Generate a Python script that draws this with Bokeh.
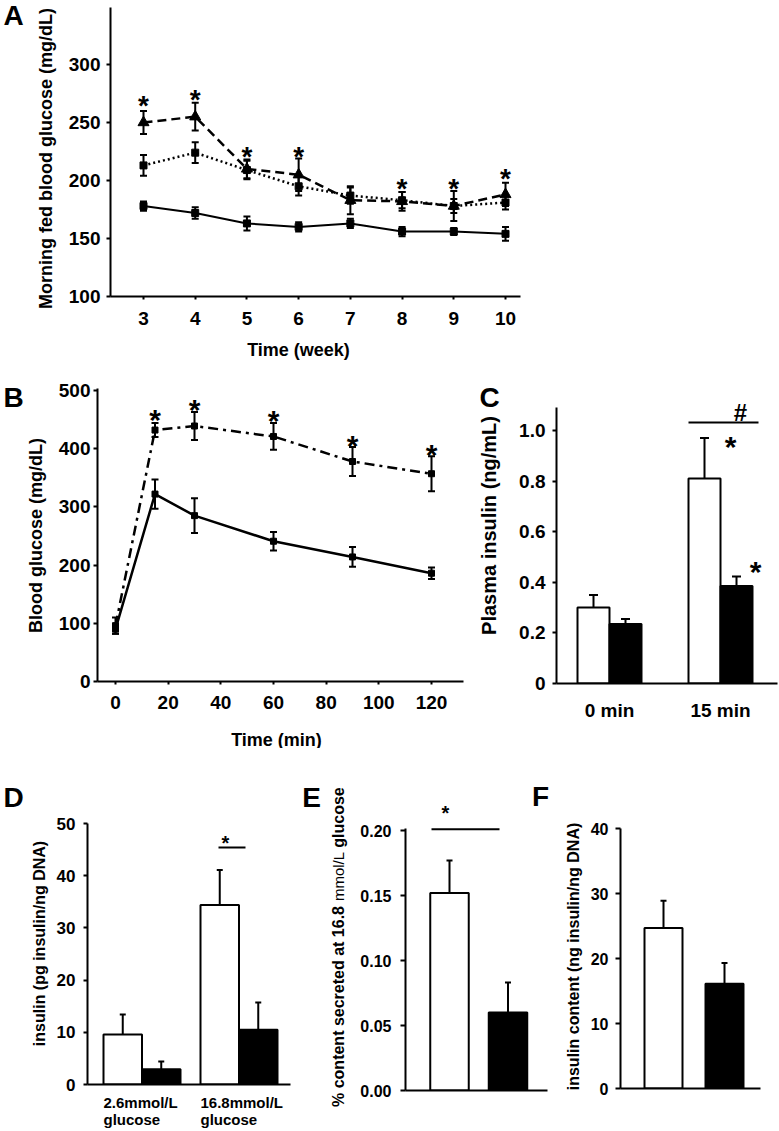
import math
from bokeh.plotting import figure
from bokeh.layouts import column, row
from bokeh.models import ColumnDataSource, Whisker, TeeHead, Label, FixedTicker, Range1d
from bokeh.embed import file_html
from bokeh.resources import INLINE

FONT = "Liberation Sans"

# ---------------- data ----------------
# Panel A: morning fed blood glucose by week
weeks = [3, 4, 5, 6, 7, 8, 9, 10]
a_ctrl = [178, 172, 163, 160, 163, 156, 156, 154]
a_ctrl_err = [4, 5, 6, 4, 4, 4, 3, 6]
a_mid = [213, 224, 209, 195, 187, 183, 178, 181]
a_mid_err = [9, 9, 8, 8, 7, 7, 6, 6]
a_high = [250, 255, 210, 205, 183, 182, 178, 188]
a_high_err = [10, 12, 8, 14, 12, 8, 13, 10]
a_star_x = [3, 4, 5, 6, 8, 9, 10]
a_star_y = [270, 275, 226, 226, 198, 198, 207]

# Panel B: glucose tolerance
b_time = [0, 15, 30, 60, 90, 120]
b_ctrl = [90, 322, 285, 241, 214, 186]
b_ctrl_err = [8, 25, 30, 16, 17, 10]
b_ko = [96, 432, 439, 421, 378, 357]
b_ko_err = [14, 12, 24, 23, 25, 30]
b_star_x = [15, 30, 60, 90, 120]
b_star_y = [462, 479, 460, 417, 402]

# Panel C: plasma insulin
c_groups = ["0 min", "15 min"]
c_white = [0.30, 0.81]
c_white_err = [0.05, 0.16]
c_black = [0.235, 0.385]
c_black_err = [0.02, 0.038]

# Panel D: insulin secretion
d_groups = [["2.6mmol/L", "glucose"], ["16.8mmol/L", "glucose"]]
d_white = [9.6, 34.4]
d_white_err = [3.8, 6.7]
d_black = [2.9, 10.5]
d_black_err = [1.5, 5.2]

# Panel E: % content secreted
e_vals = [0.152, 0.060]
e_err = [0.025, 0.023]

# Panel F: insulin content
f_vals = [24.7, 16.1]
f_err = [4.2, 3.2]


# ---------------- helpers ----------------
def lin(v1, p1, v2, p2):
    return lambda p: v1 + (p - p1) * (v2 - v1) / (p2 - p1)


def mk_label(x, y, text, size, bold=True, align="center", angle=0.0):
    return Label(x=x, y=y, text=text, text_font=FONT, text_font_size=f"{size}px",
                 text_font_style="bold" if bold else "normal", text_align=align,
                 text_baseline="middle", angle=angle, text_color="black")


class Pan:
    def __init__(self, canvas, frame, xcal, ycal):
        cl, ct, cw, ch = canvas
        fl, fr, ft, fb = frame
        fx = lin(*xcal)
        fy = lin(*ycal)
        self.fx, self.fy = fx, fy
        self.px = lin(xcal[1], xcal[0], xcal[3], xcal[2])  # data -> pixel
        self.sy = abs((ycal[3] - ycal[1]) / (ycal[2] - ycal[0]))
        self.sx = abs((xcal[3] - xcal[1]) / (xcal[2] - xcal[0]))
        p = figure(width=cw, height=ch, title=None,
                   x_range=Range1d(fx(fl), fx(fr)), y_range=Range1d(fy(fb), fy(ft)),
                   output_backend="svg", toolbar_location=None,
                   min_border_left=fl - cl, min_border_right=cl + cw - fr,
                   min_border_top=ft - ct, min_border_bottom=ct + ch - fb)
        p.outline_line_color = None
        p.xgrid.visible = False
        p.ygrid.visible = False
        p.background_fill_color = "white"
        p.border_fill_color = "white"
        for ax in (p.xaxis[0], p.yaxis[0]):
            ax.axis_line_width = 2
            ax.axis_line_color = "black"
            ax.major_tick_line_width = 2
            ax.major_tick_line_color = "black"
            ax.minor_tick_line_color = None
            ax.major_tick_in = 0
            ax.major_label_text_font = FONT
            ax.major_label_text_font_style = "bold"
            ax.major_label_text_color = "black"
        self.p = p

    def label(self, text, rx, ry, size, bold=True, align="center", angle=0.0):
        self.p.add_layout(mk_label(self.fx(rx), self.fy(ry), text, size, bold, align, angle))

    def star(self, x, y, size, text="*"):
        # y is the visual centre of the asterisk in data units
        self.p.add_layout(mk_label(x, y - 0.22 * size / self.sy, text, size))


class Gut:
    """Text-only strip whose frame is its whole canvas, in page pixels."""
    def __init__(self, x0, y0, w, h):
        p = figure(width=w, height=h, title=None, x_range=Range1d(x0, x0 + w),
                   y_range=Range1d(y0 + h, y0), x_axis_type=None, y_axis_type=None,
                   output_backend="svg", toolbar_location=None, min_border=0)
        p.outline_line_color = None
        p.background_fill_color = "white"
        p.border_fill_color = "white"
        self.p = p

    def label(self, text, x, y, size, bold=True, align="center", angle=0.0):
        self.p.add_layout(mk_label(x, y, text, size, bold, align, angle))


def W(p):
    # isolate a plot in its own box so its frame is not aligned with its neighbours
    return column(p)


def errbars(p, xs, ys, errs, cap=8, both=True, width=2):
    src = ColumnDataSource(dict(x=xs, lo=[y - e for y, e in zip(ys, errs)] if both else list(ys),
                                hi=[y + e for y, e in zip(ys, errs)]))
    w = Whisker(source=src, base="x", lower="lo", upper="hi", line_width=width, line_color="black",
                upper_head=TeeHead(size=cap, line_width=width, line_color="black"),
                lower_head=TeeHead(size=cap, line_width=width, line_color="black") if both else None)
    p.add_layout(w)


def bars(p, xs, tops, width, fill):
    p.vbar(x=xs, top=tops, bottom=0, width=width, fill_color=fill, line_color="black", line_width=2)


# ---------------- Panel A ----------------
gAL = Gut(0, 0, 60, 362)
gAL.label("A", 13, 15, 28)
gAL.label("Morning fed blood glucose (mg/dL)", 45, 158, 18, angle=math.pi / 2)

A = Pan((60, 0, 719, 338), (110, 520, 7, 296), (3, 143, 10, 505), (100, 296, 300, 64))
pa = A.p
pa.xaxis.ticker = FixedTicker(ticks=weeks)
pa.yaxis.ticker = FixedTicker(ticks=[100, 150, 200, 250, 300])
pa.xaxis.major_label_text_font_size = "19px"
pa.yaxis.major_label_text_font_size = "19px"
pa.xaxis.major_tick_out = 3
pa.xaxis.major_label_standoff = 12
pa.yaxis.major_tick_out = 4
pa.yaxis.major_label_standoff = 6

pa.line(weeks, a_ctrl, line_width=2, color="black")
errbars(pa, weeks, a_ctrl, a_ctrl_err, cap=7)
pa.scatter(weeks, a_ctrl, marker="square", size=7, color="black")

pa.line(weeks, a_mid, line_width=2.5, color="black", line_dash="2 3")
errbars(pa, weeks, a_mid, a_mid_err, cap=7)
pa.scatter(weeks, a_mid, marker="square", size=7, color="black")

pa.line(weeks, a_high, line_width=2.5, color="black", line_dash="9 5")
errbars(pa, weeks, a_high, a_high_err, cap=7)
pa.scatter(weeks, a_high, marker="triangle", size=11, color="black")

for x, y in zip(a_star_x, a_star_y):
    A.star(x, y, 28)

gAB = Gut(60, 338, 719, 24)
gAB.label("Time (week)", 298, 349, 18)

rowA = row(W(gAL.p), column(W(pa), W(gAB.p)))

# ---------------- Panel B ----------------
gBL = Gut(0, 362, 50, 386)
gBL.label("B", 13, 397, 28)
gBL.label("Blood glucose (mg/dL)", 35, 535, 18, angle=math.pi / 2)

B = Pan((50, 362, 415, 358), (97, 463, 388, 681), (0, 115, 120, 431), (0, 681, 500, 390))
pb = B.p
pb.xaxis.ticker = FixedTicker(ticks=[0, 20, 40, 60, 80, 100, 120])
pb.yaxis.ticker = FixedTicker(ticks=[0, 100, 200, 300, 400, 500])
pb.xaxis.major_label_text_font_size = "19px"
pb.yaxis.major_label_text_font_size = "19px"
pb.xaxis.major_tick_out = 3
pb.xaxis.major_label_standoff = 11
pb.yaxis.major_tick_out = 4
pb.yaxis.major_label_standoff = 3

pb.line(b_time, b_ctrl, line_width=2.5, color="black")
errbars(pb, b_time, b_ctrl, b_ctrl_err, cap=7)
pb.scatter(b_time, b_ctrl, marker="square", size=6, color="black")

pb.line(b_time, b_ko, line_width=2.5, color="black", line_dash="10 5 3 5")
errbars(pb, b_time, b_ko, b_ko_err, cap=7)
pb.scatter(b_time, b_ko, marker="square", size=6, color="black")

for x, y in zip(b_star_x, b_star_y):
    B.star(x, y, 30)

gBB = Gut(50, 720, 415, 28)
gBB.label("Time (min)", 276, 739, 18)

gBC = Gut(465, 362, 50, 386)
gBC.label("C", 489, 397, 28)
gBC.label("Plasma insulin (ng/mL)", 488, 525, 20, angle=math.pi / 2)

# ---------------- Panel C ----------------
C = Pan((515, 362, 264, 386), (556, 777, 385, 683), (0, 609, 1, 720), (0, 683, 1.0, 430))
pc = C.p
cx = list(range(len(c_groups)))
pc.xaxis.ticker = FixedTicker(ticks=cx)
pc.xaxis.major_label_overrides = {i: g for i, g in enumerate(c_groups)}
pc.xaxis.major_tick_out = 0
pc.xaxis.major_label_standoff = 16
pc.xaxis.major_label_text_font_size = "19px"
pc.yaxis.ticker = FixedTicker(ticks=[0, 0.2, 0.4, 0.6, 0.8, 1.0])
pc.yaxis.major_label_overrides = {0: "0", 0.2: "0.2", 0.4: "0.4", 0.6: "0.6", 0.8: "0.8", 1.0: "1.0"}
pc.yaxis.major_label_text_font_size = "19px"
pc.yaxis.major_tick_out = 4
pc.yaxis.major_label_standoff = 7
pc.yaxis.bounds = (0, C.fy(407))
cw = 32 / C.sx
cxw = [x - cw / 2 for x in cx]
cxb = [x + cw / 2 for x in cx]
errbars(pc, cxw, c_white, c_white_err, cap=9, both=False)
errbars(pc, cxb, c_black, c_black_err, cap=9, both=False)
bars(pc, cxw, c_white, cw, "white")
bars(pc, cxb, c_black, cw, "black")
pc.segment(x0=[C.fx(688)], y0=[1.032], x1=[C.fx(758)], y1=[1.032], line_width=2, color="black")
C.star(C.fx(740), C.fy(407), 24, text="#")
C.star(C.fx(730), C.fy(439), 30)
C.star(C.fx(755), C.fy(564), 30)

rowBC = row(W(gBL.p), column(W(pb), W(gBB.p)), W(gBC.p), W(pc))

# ---------------- Panel D ----------------
gDL = Gut(0, 748, 50, 346)
gDL.label("D", 13, 797, 28)
gDL.label("insulin (pg insulin/ng DNA)", 39, 943, 16, angle=math.pi / 2)

D = Pan((50, 748, 250, 346), (87, 290, 823, 1084), (0, 141.5, 1, 238.5), (0, 1084, 50, 823))
pd_ = D.p
dx = list(range(len(d_groups)))
pd_.xaxis.ticker = FixedTicker(ticks=[])
pd_.xaxis.major_tick_out = 0
pd_.xaxis.major_label_standoff = 0
pd_.yaxis.ticker = FixedTicker(ticks=[0, 10, 20, 30, 40, 50])
pd_.yaxis.major_label_text_font_size = "17px"
pd_.yaxis.major_tick_out = 4
pd_.yaxis.major_label_standoff = 8
dw = 38.5 / D.sx
dxw = [x - dw / 2 for x in dx]
dxb = [x + dw / 2 for x in dx]
errbars(pd_, dxw, d_white, d_white_err, cap=6, both=False)
errbars(pd_, dxb, d_black, d_black_err, cap=6, both=False)
bars(pd_, dxw, d_white, dw, "white")
bars(pd_, dxb, d_black, dw, "black")
pd_.segment(x0=[D.fx(218)], y0=[45.4], x1=[D.fx(245)], y1=[45.4], line_width=2, color="black")
D.star(D.fx(225), D.fy(838), 20)

gDB = Gut(0, 1094, 300, 37)
for x, (l1, l2) in zip(dx, d_groups):
    gDB.label(l1, D.px(x - dw), 1102, 15, align="left")
    gDB.label(l2, D.px(x - dw), 1119, 15, align="left")

# ---------------- Panel E ----------------
gEL = Gut(300, 748, 50, 383)
gEL.label("E", 311, 797, 28)
# rotated title in three runs (bold / regular / bold), each centred on its own span
gEL.label("% content secreted at 16.8", 338, 1006, 16, angle=math.pi / 2)
gEL.label("mmol/L", 338, 876, 15, bold=False, angle=math.pi / 2)
gEL.label("glucose", 338, 817, 16, angle=math.pi / 2)

E = Pan((350, 748, 210, 383), (405, 555, 783, 1090), (0, 449, 1, 507.5), (0, 1090, 0.2, 830))
pe = E.p
ex = [0, 1]
pe.xaxis.ticker = FixedTicker(ticks=[])
pe.xaxis.major_tick_out = 0
pe.xaxis.major_label_standoff = 0
pe.xaxis.bounds = (E.fx(405), E.fx(547))
pe.yaxis.ticker = FixedTicker(ticks=[0, 0.05, 0.1, 0.15, 0.2])
pe.yaxis.major_label_overrides = {0: "0.00", 0.05: "0.05", 0.1: "0.10", 0.15: "0.15", 0.2: "0.20"}
pe.yaxis.major_label_text_font_size = "16px"
pe.yaxis.major_tick_out = 5
pe.yaxis.major_label_standoff = 9
pe.yaxis.bounds = (0, E.fy(828))
ew = 38.5 / E.sx
errbars(pe, ex, e_vals, e_err, cap=6, both=False)
bars(pe, [ex[0]], [e_vals[0]], ew, "white")
bars(pe, [ex[1]], [e_vals[1]], ew, "black")
pe.segment(x0=[E.fx(431)], y0=[0.201], x1=[E.fx(499)], y1=[0.201], line_width=2, color="black")
E.star(E.fx(445), E.fy(808), 20)
E.label("F", 540, 796, 28)

gEF = Gut(560, 748, 27, 383)
gEF.label("insulin content (ng insulin/ng DNA)", 573, 956, 16, angle=math.pi / 2)

# ---------------- Panel F ----------------
F = Pan((587, 748, 192, 383), (620, 760, 828, 1088), (0, 663, 1, 724), (0, 1088, 40, 828))
pf = F.p
fx_ = [0, 1]
pf.xaxis.ticker = FixedTicker(ticks=[])
pf.xaxis.major_tick_out = 0
pf.xaxis.major_label_standoff = 0
pf.yaxis.ticker = FixedTicker(ticks=[0, 10, 20, 30, 40])
pf.yaxis.major_label_text_font_size = "16px"
pf.yaxis.major_tick_out = 5
pf.yaxis.major_label_standoff = 7
fw = 38 / F.sx
errbars(pf, fx_, f_vals, f_err, cap=6, both=False)
bars(pf, [fx_[0]], [f_vals[0]], fw, "white")
bars(pf, [fx_[1]], [f_vals[1]], fw, "black")

rowDEF = row(column(row(W(gDL.p), W(pd_)), W(gDB.p)), W(gEL.p), W(pe), W(gEF.p), W(pf))

layout = column(rowA, rowBC, rowDEF)
open("out.html", "w").write(file_html(layout, INLINE))
